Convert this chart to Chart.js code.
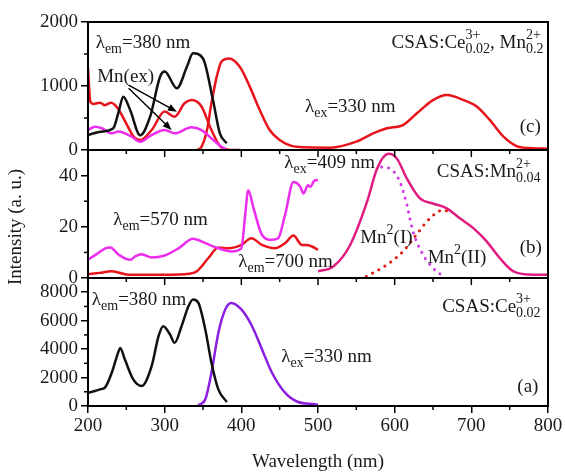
<!DOCTYPE html>
<html>
<head>
<meta charset="utf-8">
<script src="https://cdn.jsdelivr.net/npm/chart.js@4.4.0/dist/chart.umd.min.js"></script>
<style>
  html, body { margin: 0; padding: 0; background: #fff; }
</style>
</head>
<body>
<canvas id="chart" width="565" height="473"></canvas>
<script>
// ---- panel (c): CSAS:Ce0.02, Mn0.2 ----
const cCeEx = [[200,234],[216,286],[233,340],[240,600],[246,833],[255,625],[268,230],[281,520],[294,1145],[300,1225],[316,964],[329,1300],[337,1510],[350,1430],[363,780],[372,260],[381,105]];
const cMnExRed = [[200,1280],[203,760],[207,720],[216,740],[222,700],[230,740],[239,650],[252,365],[260,200],[268,156],[283,312],[300,600],[313,520],[326,730],[335,780],[348,680],[361,312],[374,40],[390,0],[398,0]];
const cMnExMag = [[200,312],[209,364],[218,340],[231,260],[240,290],[257,208],[268,130],[283,234],[300,312],[313,260],[335,354],[348,312],[361,182],[374,52],[380,15]];
const cEm = [[342,0],[348,50],[355,300],[361,730],[368,1150],[374,1380],[384,1430],[398,1300],[411,990],[424,625],[437,312],[450,156],[472,50],[516,36],[550,130],[572,260],[590,340],[611,390],[629,573],[650,780],[668,860],[690,780],[707,680],[724,470],[742,208],[759,60],[776,30],[800,20]];

// ---- panel (b): CSAS:Mn0.04 ----
const bEx570 = [[200,7.1],[213,9.7],[222,11.5],[229,11.9],[240,9.1],[255,7.1],[262,8.5],[270,9.3],[283,8.0],[300,8.8],[318,11.6],[337,15.3],[353,13.6],[370,11.6],[387,10.4],[400,11.6],[405,24.6],[409,34.3],[416,27.2],[427,16.8],[440,14.9],[448,15.5],[457,24.6],[468,37.5],[477,35.6],[481,33],[487,36.2],[490,35.6],[496,38.2],[500,38.2]];
const bEx700 = [[200,1.5],[215,2],[231,2.6],[253,1.3],[283,1.3],[327,1.5],[342,2.6],[357,7.8],[370,11.9],[383,11.6],[400,12.9],[413,15.5],[427,12.9],[444,11.6],[457,13.6],[468,16.6],[479,12.9],[485,12.9],[492,12.3],[500,11.0]];
const bEm = [[500,2.6],[520,4.5],[542,12.9],[564,29.8],[577,42.7],[592,48.5],[603,46.6],[616,38.8],[633,31.1],[650,29.1],[668,27.2],[685,23.3],[703,19.4],[720,14.3],[737,7.8],[755,2.6],[781,1.3],[800,1.3]];
const bFitI = [[583,43.4],[594,42.7],[607,37.5],[616,28.5],[624,18.1],[637,9.1],[650,3.9],[663,0.7]];
const bFitII = [[563,0.6],[590,5.2],[611,10.4],[628,16.8],[646,23.3],[663,26.5],[676,25.2]];

// ---- panel (a): CSAS:Ce0.02 ----
const aEx = [[200,935],[209,1050],[216,1170],[222,1290],[231,2340],[240,3860],[242,4070],[248,3280],[259,1870],[270,1400],[283,2800],[292,4910],[298,5610],[307,5030],[313,4440],[322,5610],[331,7020],[337,7490],[344,7250],[353,5380],[361,3040],[370,1170],[381,280]];
const aEm = [[344,50],[353,470],[361,2340],[370,5140],[379,6790],[387,7250],[400,6790],[414,5610],[427,3980],[440,2340],[457,935],[474,280],[496,120],[500,80]];

// tick values
const xTicks = [200, 300, 400, 500, 600, 700, 800];
const yTicksA = [0, 2000, 4000, 6000, 8000];
const yTicksB = [0, 20, 40];
const yTicksC = [0, 1000, 2000];
const yMinor = { yC: [500, 1500], yB: [10, 30], yA: [1000, 3000, 5000, 7000] };

// text labels: panel, x (nm), y (panel units) of the baseline start
const labels = [
  { p: 'yC', x: 210, y: 1590, parts: [{t:'λ'},{sub:'em'},{t:'=380 nm'}] },
  { p: 'yC', x: 212, y: 1060, parts: [{t:'Mn(ex)'}] },
  { p: 'yC', x: 483, y: 590, parts: [{t:'λ'},{sub:'ex'},{t:'=330 nm'}] },
  { p: 'yC', x: 596, y: 1590, parts: [{t:'CSAS:Ce'},{sup:'3+', sub:'0.02'},{t:', Mn'},{sup:'2+', sub:'0.2'}] },
  { p: 'yC', x: 763, y: 280, parts: [{t:'(c)'}] },
  { p: 'yB', x: 233, y: 20.6, parts: [{t:'λ'},{sub:'em'},{t:'=570 nm'}] },
  { p: 'yB', x: 456, y: 43, parts: [{t:'λ'},{sub:'ex'},{t:'=409 nm'}] },
  { p: 'yB', x: 396, y: 4.4, parts: [{t:'λ'},{sub:'em'},{t:'=700 nm'}] },
  { p: 'yB', x: 655, y: 39.3, parts: [{t:'CSAS:Mn'},{sup:'2+', sub:'0.04'}] },
  { p: 'yB', x: 555, y: 13.6, parts: [{t:'Mn'},{sup:'2'},{t:'(I)'}] },
  { p: 'yB', x: 643, y: 5.8, parts: [{t:'Mn'},{sup:'2'},{t:'(II)'}] },
  { p: 'yB', x: 763, y: 9.7, parts: [{t:'(b)'}] },
  { p: 'yA', x: 205, y: 7090, parts: [{t:'λ'},{sub:'em'},{t:'=380 nm'}] },
  { p: 'yA', x: 452, y: 3110, parts: [{t:'λ'},{sub:'ex'},{t:'=330 nm'}] },
  { p: 'yA', x: 662, y: 6620, parts: [{t:'CSAS:Ce'},{sup:'3+', sub:'0.02'}] },
  { p: 'yA', x: 760, y: 1000, parts: [{t:'(a)'}] }
];
// arrows in panel (c): from -> to
const arrows = [
  { from: [253, 1015], to: [316, 598] },
  { from: [253, 964], to: [309, 312] }
];

const FONT = 'Liberation Serif';
const TXT = '#1a1a1a';

function pts(arr) { return arr.map(d => ({ x: d[0], y: d[1] })); }

function series(data, axis, color, dashed) {
  return {
    data: pts(data),
    yAxisID: axis,
    borderColor: color,
    borderWidth: dashed ? 3 : 2.5,
    borderDash: dashed ? [0.1, 7] : [],
    borderCapStyle: dashed ? 'round' : 'butt',
    fill: false
  };
}

function yAxis(min, max, tickVals) {
  return {
    type: 'linear',
    position: 'left',
    stack: 'panels',
    stackWeight: 1,
    min: min, max: max,
    afterFit: s => { s.width = 88; },
    afterBuildTicks: s => { s.ticks = tickVals.map(v => ({ value: v })); },
    ticks: { autoSkip: false, callback: v => String(v), color: TXT, padding: 3, font: { family: FONT, size: 19 } },
    grid: { drawOnChartArea: false, tickLength: 7, color: '#000', lineWidth: 1.5 },
    border: { display: true, color: '#000', width: 2 }
  };
}

function drawRich(ctx, parts, x, y) {
  let cx = x;
  parts.forEach(p => {
    if (p.t) {
      ctx.font = `19px "${FONT}"`;
      ctx.fillText(p.t, cx, y);
      cx += ctx.measureText(p.t).width;
    } else {
      ctx.font = `14px "${FONT}"`;
      let w = 0;
      if (p.sup) { ctx.fillText(p.sup, cx, y - 9); w = ctx.measureText(p.sup).width; }
      if (p.sub) { ctx.fillText(p.sub, cx, y + 5); w = Math.max(w, ctx.measureText(p.sub).width); }
      cx += w;
    }
  });
}

const framePlugin = {
  id: 'frame',
  afterDraw(chart) {
    const ctx = chart.ctx;
    const xs = chart.scales.x;
    const area = chart.chartArea;
    ctx.save();
    ctx.strokeStyle = '#000';
    ['yC', 'yB', 'yA'].forEach(id => {
      const s = chart.scales[id];
      ctx.lineWidth = 2;
      ctx.strokeRect(area.left, s.top, area.right - area.left, s.bottom - s.top);
      ctx.lineWidth = 1.5;
      for (let v = 250; v <= 800; v += 50) {
        const major = v % 100 === 0;
        if (id === 'yA' && major) continue;
        const px = xs.getPixelForValue(v);
        ctx.beginPath();
        ctx.moveTo(px, s.bottom);
        ctx.lineTo(px, s.bottom + (major ? 7 : 4));
        ctx.stroke();
      }
      yMinor[id].forEach(v => {
        const py = s.getPixelForValue(v);
        ctx.beginPath();
        ctx.moveTo(area.left, py);
        ctx.lineTo(area.left - 4, py);
        ctx.stroke();
      });
    });

    // arrows
    const yc = chart.scales.yC;
    ctx.fillStyle = '#000';
    arrows.forEach(a => {
      const x1 = xs.getPixelForValue(a.from[0]), y1 = yc.getPixelForValue(a.from[1]);
      const x2 = xs.getPixelForValue(a.to[0]), y2 = yc.getPixelForValue(a.to[1]);
      const ang = Math.atan2(y2 - y1, x2 - x1);
      ctx.lineWidth = 1.4;
      ctx.beginPath();
      ctx.moveTo(x1, y1);
      ctx.lineTo(x2 - 6 * Math.cos(ang), y2 - 6 * Math.sin(ang));
      ctx.stroke();
      ctx.beginPath();
      ctx.moveTo(x2, y2);
      ctx.lineTo(x2 - 9 * Math.cos(ang) + 3.5 * Math.sin(ang), y2 - 9 * Math.sin(ang) - 3.5 * Math.cos(ang));
      ctx.lineTo(x2 - 9 * Math.cos(ang) - 3.5 * Math.sin(ang), y2 - 9 * Math.sin(ang) + 3.5 * Math.cos(ang));
      ctx.closePath();
      ctx.fill();
    });

    // text labels
    ctx.fillStyle = TXT;
    ctx.textBaseline = 'alphabetic';
    ctx.textAlign = 'left';
    labels.forEach(l => {
      drawRich(ctx, l.parts, xs.getPixelForValue(l.x), chart.scales[l.p].getPixelForValue(l.y));
    });

    // y axis title
    ctx.font = `19px "${FONT}"`;
    ctx.textAlign = 'center';
    ctx.textBaseline = 'middle';
    ctx.translate(16, (chart.scales.yB.top + chart.scales.yB.bottom) / 2 + 13);
    ctx.rotate(-Math.PI / 2);
    ctx.fillText('Intensity (a. u.)', 0, 0);
    ctx.restore();
  }
};

new Chart(document.getElementById('chart'), {
  type: 'line',
  data: {
    datasets: [
      series(cCeEx, 'yC', '#111111'),
      series(cMnExMag, 'yC', '#ee2cee'),
      series(cMnExRed, 'yC', '#e8141c'),
      series(cEm, 'yC', '#e8141c'),
      series(bFitI, 'yB', '#d23ae8', true),
      series(bFitII, 'yB', '#e02018', true),
      series(bEx570, 'yB', '#ee2cee'),
      series(bEx700, 'yB', '#e8141c'),
      series(bEm, 'yB', '#e01c80'),
      series(aEx, 'yA', '#111111'),
      series(aEm, 'yA', '#8c1ee0')
    ]
  },
  options: {
    responsive: false,
    animation: false,
    layout: { padding: { top: 22, right: 17, left: 0, bottom: 0 } },
    plugins: { legend: { display: false }, tooltip: { enabled: false } },
    elements: { point: { radius: 0 }, line: { cubicInterpolationMode: 'monotone' } },
    scales: {
      x: {
        type: 'linear',
        position: 'bottom',
        min: 200, max: 800,
        afterFit: s => { s.height = 67; },
        afterBuildTicks: s => { s.ticks = xTicks.map(v => ({ value: v })); },
        ticks: { autoSkip: false, callback: v => String(v), color: TXT, padding: 2, font: { family: FONT, size: 19 } },
        grid: { drawOnChartArea: false, tickLength: 7, color: '#000', lineWidth: 1.5 },
        border: { display: true, color: '#000', width: 2 },
        title: { display: true, text: 'Wavelength (nm)', color: TXT, padding: { top: 4, bottom: 0 }, font: { family: FONT, size: 19 } }
      },
      yA: yAxis(0, 9000, yTicksA),
      yB: yAxis(0, 50, yTicksB),
      yC: yAxis(0, 2000, yTicksC)
    }
  },
  plugins: [framePlugin]
});
</script>
</body>
</html>
